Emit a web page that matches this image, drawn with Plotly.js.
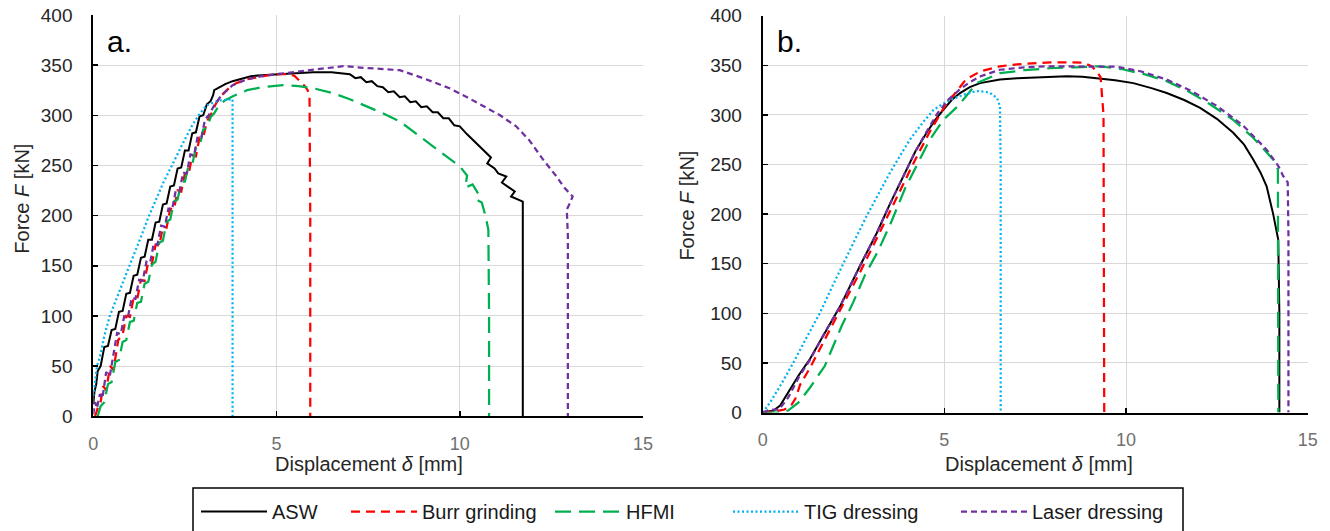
<!DOCTYPE html>
<html><head><meta charset="utf-8">
<script src="https://cdn.plot.ly/plotly-3.0.1.min.js"></script>
<style>html,body{margin:0;padding:0;background:#fff}#chart{width:1330px;height:531px}</style>
</head><body><div id="chart"></div>
<script>
// ---------- data ----------
const seriesNames = ['ASW', 'Burr grinding', 'HFMI', 'TIG dressing', 'Laser dressing'];
const xTickVals = [0, 5, 10, 15];
const yTickVals = [0, 50, 100, 150, 200, 250, 300, 350, 400];
const panelLabels = ['a.', 'b.'];
const xTitle = 'Displacement <i>δ</i> [mm]';
const yTitle = 'Force <i>F</i> [kN]';

// panel a
const aAswX = [0,0.03,0.08,0.12,0.2,0.3,0.4,0.5,0.6,0.7,0.8,0.9,1.0,1.1,1.2,1.3,1.4,1.5,1.6,1.7,1.8,1.9,2.0,2.1,2.2,2.3,2.4,2.5,2.6,2.7,2.8,2.9,3.0,3.1,3.2,3.27,3.3,3.45,3.6,3.8,4.0,4.3,4.6,5.0,5.5,6.0,6.5,7.0,7.15,7.3,7.45,7.6,7.75,7.9,8.05,8.2,8.36,8.5,8.65,8.8,8.95,9.1,9.26,9.4,9.55,9.7,9.85,10.0,10.2,10.4,10.62,10.85,10.75,10.95,11.05,11.27,11.15,11.3,11.5,11.4,11.6,11.72,11.72,11.72];
const aAswY = [12,24,32,45,50,69,70,86,87,104,105,122,123,140,141,158,159,176,176,193,194,211,212,229,230,247,248,265,265,282,283,299,300,311,314,320,325,328,331,334,336,339,340,341,342,343,343,341,337,338,333,334,329,328,323,324,318,319,313,314,308,309,303,303,297,297,290,289,281,274,266,258,252,247,242,239,233,229,224,219,216,214,100,0];

const aBurrX = [0.05,0.12,0.2,0.27,0.35,0.46,0.55,0.68,0.8,0.9,1.0,1.1,1.2,1.3,1.4,1.5,1.6,1.7,1.8,1.9,2.0,2.1,2.2,2.3,2.4,2.5,2.6,2.7,2.8,2.9,3.0,3.1,3.2,3.35,3.5,3.7,3.9,4.2,4.5,4.8,5.1,5.35,5.5,5.64,5.75,5.85,5.9,5.92,5.92];
const aBurrY = [0,8,14,30,26,50,46,76,81,100,99,118,117,136,135,154,152,171,170,189,188,207,206,225,224,242,241,260,259,278,278,294,300,312,320,327,332,336,338,340,341,341,339,334,330,325,318,200,0];

const aHfmiX = [0.12,0.2,0.3,0.4,0.5,0.6,0.7,0.8,0.9,1.0,1.1,1.2,1.3,1.4,1.5,1.6,1.7,1.8,1.9,2.0,2.1,2.2,2.3,2.4,2.5,2.6,2.7,2.8,2.9,3.0,3.1,3.2,3.3,3.45,3.6,3.81,4.2,4.6,5.18,5.6,6.0,6.54,7.0,7.45,7.9,8.36,8.8,9.26,9.6,10.0,10.2,10.15,10.35,10.5,10.45,10.6,10.7,10.78,10.8,10.8];
const aHfmiY = [0,10,14,32,34,54,56,74,76,94,95,113,114,132,134,151,154,173,175,194,196,214,216,233,234,250,251,268,269,286,287,298,302,311,315,319,325,328,330,329,327,322,316,309,302,294,282,269,260,249,240,228,231,222,216,213,200,186,100,0];

const aTigX = [0,0.05,0.1,0.2,0.3,0.45,0.6,0.75,0.91,1.1,1.27,1.5,1.7,1.9,2.09,2.3,2.5,2.7,2.91,3.1,3.3,3.5,3.8,3.8];
const aTigY = [20,35,50,62,80,100,115,128,143,160,176,198,215,232,246,262,276,290,302,310,313,315,316,0];

const aLaserX = [0,0.05,0.1,0.18,0.25,0.35,0.45,0.55,0.65,0.75,0.85,0.95,1.05,1.15,1.25,1.35,1.45,1.55,1.65,1.75,1.85,1.95,2.05,2.15,2.25,2.35,2.45,2.55,2.65,2.75,2.85,2.95,3.05,3.15,3.3,3.5,3.8,4.2,4.6,5.0,5.5,6.0,6.5,6.82,7.5,8.36,9.0,9.72,10.2,10.63,11.1,11.54,11.9,12.27,12.45,12.64,12.85,13.08,13.0,12.92,12.95,12.95];
const aLaserY = [2,14,8,22,18,44,40,64,83,82,101,100,118,117,136,135,154,153,172,171,190,189,207,206,225,224,243,242,261,260,279,278,296,300,310,320,330,336,339,341,343,345,347,349,347,345,337,327,318,309,300,289,275,256,248,239,228,219,212,206,180,0];

// panel b
const bAswX = [0,0.3,0.48,0.7,1.0,1.3,1.7,2.13,2.68,3.14,3.5,3.87,4.2,4.51,4.75,4.97,5.2,5.43,5.7,5.98,6.53,7.0,7.5,8.0,8.37,8.8,9.28,9.7,10.2,10.7,11.12,11.6,12.04,12.5,12.95,13.25,13.5,13.7,13.87,14.05,14.19,14.22,14.22];
const bAswY = [0,2,7,20,38,54,80,107,148,181,210,238,263,282,295,305,315,322,328,332,335.6,337,338,339,339,338.5,337,335,332,327,322,315,307,296,282,270,255,242,228,200,174,100,0];

const bBurrX = [0,0.3,0.6,0.8,0.9,1.03,1.3,1.7,2.2,2.7,3.2,3.7,4.2,4.6,5.0,5.3,5.6,6.0,6.53,7.0,7.5,7.91,8.4,8.83,9.05,9.19,9.3,9.38,9.4];
const bBurrY = [0,1,3,8,14,28,45,73,108,143,180,218,255,283,308,322,336,344,349,351,352,353,353,352.5,349,344,338,300,0];

const bHfmiX = [0,0.5,0.7,0.98,1.3,1.71,2.17,2.49,2.82,3.18,3.55,3.92,4.28,4.6,4.97,5.38,5.89,6.53,7.2,7.9,8.6,9.28,9.9,10.5,11.12,11.7,12.3,12.95,13.5,14.05,14.18,14.19,14.19];
const bHfmiY = [0,0,2,10,25,47,87,111,139,163,193,226,252,275,295,309,332,342,345,347,348,349,346,341,334,324,311,295,277,255,245,100,0];

const bTigX = [0,0.2,0.5,0.84,1.2,1.58,1.9,2.22,2.55,2.86,3.2,3.5,3.8,4.05,4.4,4.7,4.95,5.16,5.5,5.89,6.1,6.26,6.45,6.53,6.55,6.55];
const bTigY = [0,10,28,50,75,100.7,126,151,175,198,222,241.6,260,275,292,305,311,315,320,324,323.5,322,317,308.6,250,0];

const bLaserX = [0,0.2,0.45,0.7,1.0,1.3,1.7,2.13,2.68,3.14,3.5,3.87,4.2,4.51,4.8,5.1,5.4,5.7,6.0,6.53,7.2,7.8,8.37,9.0,9.74,10.4,11.12,11.8,12.5,13.2,13.87,14.2,14.33,14.45,14.47,14.47];
const bLaserY = [0,3,3,15,36,53,80,107,148,181,210,238,263,283,301,315,325,333,339,345.5,348,349,349,349,348.5,344,335.6,324,309,290,265,248,238,232,180,0];

// ---------- styles ----------
const colors = ['#000000', '#ff0000', '#00b050', '#00b0f0', '#7030a0'];
const dashes = ['solid', '9px,6px', '16px,8px', '2px,2.5px', '6px,4px'];
const widths = [2, 2.25, 2.25, 2.25, 2.25];
const FONT = 'Liberation Sans, Arial, sans-serif';
const W = 1330, H = 531;
const px = p => p / W, py = p => 1 - p / H;

const panelA = [[aAswX, aAswY], [aBurrX, aBurrY], [aHfmiX, aHfmiY], [aTigX, aTigY], [aLaserX, aLaserY]];
const panelB = [[bAswX, bAswY], [bBurrX, bBurrY], [bHfmiX, bHfmiY], [bTigX, bTigY], [bLaserX, bLaserY]];
const legendIds = ['legend', 'legend2', 'legend3', 'legend4', 'legend5'];

const traces = [];
panelA.forEach((d, i) => traces.push({
  x: d[0], y: d[1], type: 'scatter', mode: 'lines', name: seriesNames[i],
  line: {color: colors[i], width: widths[i], dash: dashes[i]},
  xaxis: 'x', yaxis: 'y', showlegend: true, legend: legendIds[i], hoverinfo: 'skip'
}));
panelB.forEach((d, i) => traces.push({
  x: d[0], y: d[1], type: 'scatter', mode: 'lines', name: seriesNames[i],
  line: {color: colors[i], width: widths[i], dash: dashes[i]},
  xaxis: 'x2', yaxis: 'y2', showlegend: false, hoverinfo: 'skip'
}));

const xAxisBase = {
  range: [0, 15], tickvals: xTickVals, ticktext: xTickVals.map(String),
  showgrid: true, gridcolor: '#d9d9d9', gridwidth: 1, zeroline: false,
  showline: true, linecolor: '#000', linewidth: 2,
  ticks: 'inside', ticklen: 5, tickwidth: 1.5, tickcolor: '#000',
  tickfont: {family: FONT, size: 18, color: '#707070'}, ticklabelstandoff: 10
};
const yAxisBase = {
  range: [0, 400], tickvals: yTickVals, ticktext: yTickVals.map(String),
  showgrid: true, gridcolor: '#d9d9d9', gridwidth: 1, zeroline: false,
  showline: true, linecolor: '#000', linewidth: 2,
  ticks: 'inside', ticklen: 5, tickwidth: 1.5, tickcolor: '#000',
  tickfont: {family: FONT, size: 19, color: '#262626'}, ticklabelstandoff: 15
};

// legend text starts (px) from the reference
const legendTextStarts = [271, 421, 625, 803, 1031];
const ITEMW = 66;
const layout = {
  width: W, height: H, margin: {l: 0, r: 0, t: 0, b: 0},
  paper_bgcolor: '#fff', plot_bgcolor: '#fff', showlegend: true,
  xaxis: Object.assign({}, xAxisBase, {domain: [px(93.3), px(643)], anchor: 'y'}),
  yaxis: Object.assign({}, yAxisBase, {domain: [py(417), py(15)], anchor: 'x'}),
  xaxis2: Object.assign({}, xAxisBase, {domain: [px(762.7), px(1307.7)], anchor: 'y2'}),
  yaxis2: Object.assign({}, yAxisBase, {domain: [py(413.3), py(15.7)], anchor: 'x2'}),
  annotations: [
    {text: panelLabels[0], xref: 'paper', yref: 'paper', x: px(105), y: py(42), xanchor: 'left', yanchor: 'middle', showarrow: false, font: {family: FONT, size: 30, color: '#000'}},
    {text: panelLabels[1], xref: 'paper', yref: 'paper', x: px(775), y: py(42), xanchor: 'left', yanchor: 'middle', showarrow: false, font: {family: FONT, size: 30, color: '#000'}},
    {text: xTitle, xref: 'paper', yref: 'paper', x: px(369), y: py(465), xanchor: 'center', yanchor: 'middle', showarrow: false, font: {family: FONT, size: 20, color: '#262626'}},
    {text: xTitle, xref: 'paper', yref: 'paper', x: px(1039), y: py(465), xanchor: 'center', yanchor: 'middle', showarrow: false, font: {family: FONT, size: 20, color: '#262626'}},
    {text: yTitle, xref: 'paper', yref: 'paper', x: px(22), y: py(199), xanchor: 'center', yanchor: 'middle', textangle: -90, showarrow: false, font: {family: FONT, size: 20, color: '#262626'}},
    {text: yTitle, xref: 'paper', yref: 'paper', x: px(687), y: py(206), xanchor: 'center', yanchor: 'middle', textangle: -90, showarrow: false, font: {family: FONT, size: 20, color: '#262626'}}
  ],
  shapes: [
    {type: 'rect', xref: 'paper', yref: 'paper', x0: px(193), x1: px(1183), y0: py(545), y1: py(489), line: {color: '#000', width: 1.5}, fillcolor: 'rgba(0,0,0,0)'}
  ]
};
legendIds.forEach((id, i) => {
  layout[id] = {
    x: px(legendTextStarts[i] - ITEMW - 9), y: py(512), xanchor: 'left', yanchor: 'middle',
    orientation: 'h', bgcolor: 'rgba(0,0,0,0)', borderwidth: 0, itemwidth: ITEMW,
    font: {family: FONT, size: 20, color: '#1a1a1a'}
  };
});

Plotly.newPlot('chart', traces, layout, {staticPlot: true, displayModeBar: false});
</script>
</body></html>
